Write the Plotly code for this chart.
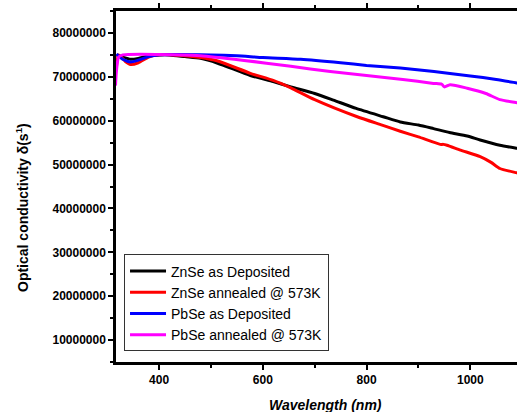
import plotly.graph_objects as go

# ZnSe as Deposited
wl_zn_dep = [318, 330, 345, 360, 380, 400, 420, 450, 480, 513, 576, 620, 654, 700, 736, 780, 832, 865, 900, 929, 960, 994, 1019, 1057, 1090, 1100]
s_zn_dep = [75.0, 74.5, 74.0, 74.2, 74.8, 75.0, 75.0, 74.6, 74.2, 73.1, 70.3, 68.9, 67.7, 66.2, 64.7, 62.8, 60.9, 59.7, 59.0, 58.2, 57.3, 56.5, 55.6, 54.4, 53.7, 53.5]

# ZnSe annealed @ 573K
wl_zn_ann = [318, 322, 335, 345, 360, 380, 400, 430, 480, 513, 576, 620, 654, 700, 782, 830, 865, 900, 942, 948, 955, 981, 1019, 1040, 1057, 1090, 1100]
s_zn_ann = [72.5, 75.0, 73.5, 72.8, 73.2, 74.5, 75.0, 75.0, 74.4, 73.6, 70.8, 69.2, 67.5, 64.8, 60.9, 59.0, 57.6, 56.3, 54.6, 54.6, 54.4, 53.3, 51.8, 50.5, 49.1, 48.1, 47.8]

# PbSe as Deposited
wl_pb_dep = [318, 330, 345, 360, 380, 400, 500, 550, 600, 673, 750, 800, 865, 930, 1000, 1050, 1090, 1100]
s_pb_dep = [75.2, 74.0, 73.4, 73.8, 74.6, 75.0, 75.0, 74.8, 74.4, 74.0, 73.2, 72.6, 72.0, 71.2, 70.2, 69.4, 68.6, 68.4]

# PbSe annealed @ 573K
wl_pb_ann = [316, 318, 322, 330, 400, 480, 560, 654, 730, 800, 870, 929, 945, 950, 961, 994, 1030, 1057, 1090, 1100]
s_pb_ann = [68.0, 71.5, 74.5, 75.0, 75.1, 74.8, 73.8, 72.4, 71.2, 70.3, 69.4, 68.5, 68.3, 67.7, 68.2, 67.4, 66.2, 64.8, 64.1, 63.9]

series = [
    ("ZnSe as Deposited", wl_zn_dep, s_zn_dep, "#000000"),
    ("ZnSe annealed @ 573K", wl_zn_ann, s_zn_ann, "#ff0000"),
    ("PbSe as Deposited", wl_pb_dep, s_pb_dep, "#0000ff"),
    ("PbSe annealed @ 573K", wl_pb_ann, s_pb_ann, "#ff00ff"),
]

y_ticks = [10000000, 20000000, 30000000, 40000000, 50000000, 60000000, 70000000, 80000000]
y_ticklabels = [str(v) for v in y_ticks]
x_ticks = [400, 600, 800, 1000]

FONT = "Liberation Sans, Arial"

fig = go.Figure()
for name, x, y, c in series:
    fig.add_trace(go.Scatter(x=x, y=[v * 1e6 for v in y], mode="lines", name=name,
                             line=dict(color=c, width=3, shape="spline", smoothing=0.6)))

pw, ph = 517 - 116, 412 - 11 - 50

fig.update_layout(
    width=517, height=412,
    margin=dict(l=116, r=0, t=11, b=50),
    plot_bgcolor="white", paper_bgcolor="white",
    font=dict(family=FONT, color="black"),
    showlegend=True,
    legend=dict(x=0.02, y=0.03, xanchor="left", yanchor="bottom",
                bgcolor="white", bordercolor="#333333", borderwidth=1,
                font=dict(size=14, family=FONT),
                tracegroupgap=0, itemwidth=36),
    xaxis=dict(range=[317, 1090], tickvals=x_ticks, showline=True, linewidth=2.5, linecolor="black",
               mirror="ticks", ticks="outside", ticklen=5, tickwidth=2, tickcolor="black",
               minor=dict(dtick=100, tick0=0, ticks="outside", ticklen=3, tickwidth=2, tickcolor="black"),
               showgrid=False, zeroline=False,
               tickfont=dict(size=12, family=FONT, weight="bold")),
    yaxis=dict(range=[5e6, 85e6], tickvals=y_ticks, ticktext=y_ticklabels, showline=True, linewidth=2.5,
               linecolor="black", ticks="outside", ticklen=5, tickwidth=2, tickcolor="black",
               minor=dict(dtick=5e6, tick0=0, ticks="outside", ticklen=3, tickwidth=2, tickcolor="black"),
               showgrid=False, zeroline=False,
               tickfont=dict(size=12, family=FONT, weight="bold")),
    annotations=[
        dict(text="<b>Optical conductivity δ(s<sup>1</sup>)</b>", xref="paper", yref="paper",
             x=(22 - 116) / pw, y=(362 - 208) / ph, xanchor="center", yanchor="middle",
             showarrow=False, textangle=-90, font=dict(size=14)),
        dict(text="<b><i>Wavelength (nm)</i></b>", xref="paper", yref="paper",
             x=(325 - 116) / pw, y=(362 - 405) / ph, xanchor="center", yanchor="middle",
             showarrow=False, font=dict(size=14)),
    ],
)

fig.write_html("out.html")
